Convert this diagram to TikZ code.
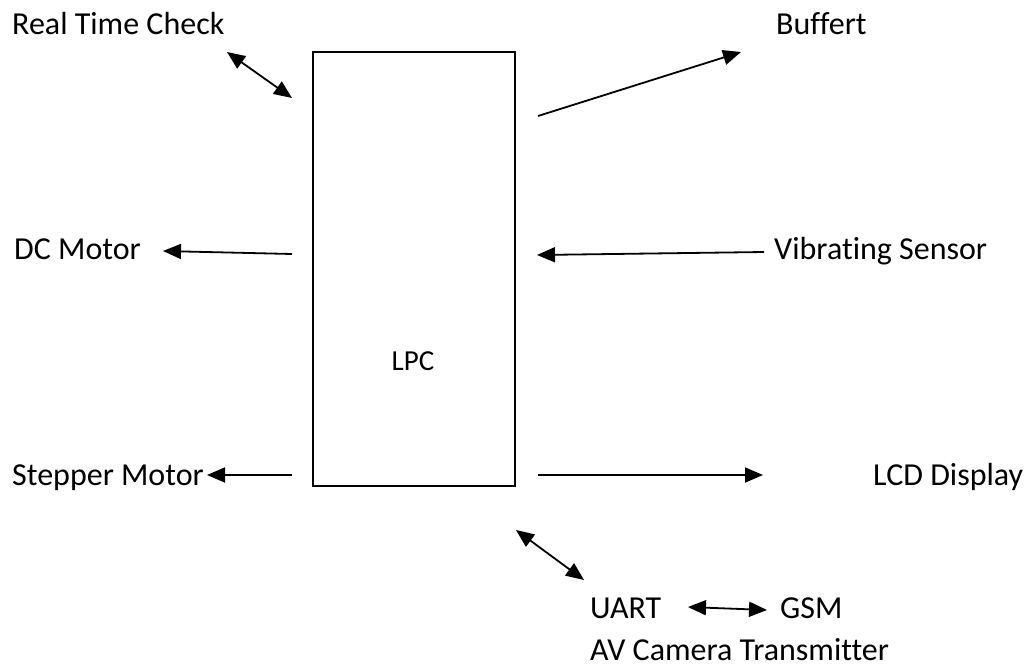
\documentclass[tikz,border=0pt]{standalone}
\usepackage{fontspec}
\setmainfont{Carlito}[Ligatures=NoCommon]
\usetikzlibrary{arrows.meta}
\tikzset{
  lbl/.style={anchor=base west, inner sep=0pt, font=\fontsize{32}{36}\selectfont},
  conn/.style={line width=1.8pt, -{Triangle[length=18pt,width=15pt]}},
  bconn/.style={line width=1.8pt, {Triangle[length=18pt,width=15pt]}-{Triangle[length=18pt,width=15pt]}},
  lpcbox/.style={draw, line width=1.4pt}
}
\begin{document}
\begin{tikzpicture}[x=1pt,y=-1pt]
\useasboundingbox (0,0) rectangle (1029,667);
% box
\draw[lpcbox] (313,52) rectangle (515,486);
\node[inner sep=0pt, font=\fontsize{29}{32}\selectfont] (lpc) at (413,361) {LPC};
% labels
\node[lbl] (rtc) at (12,34) {Real Time Check};
\node[lbl] (buf) at (776,34) {Buffert};
\node[lbl] (dc) at (14,259) {DC Motor};
\node[lbl] (vib) at (774,259) {Vibrating Sensor};
\node[lbl] (step) at (12,485) {Stepper Motor};
\node[lbl] (lcd) at (873,485) {LCD Display};
\node[lbl] (uart) at (590,618) {UART};
\node[lbl] (gsm) at (780,618) {GSM};
\node[lbl] (av) at (590,660) {AV Camera Transmitter};
% connector endpoints
\coordinate (rtcA) at (227,52);
\coordinate (rtcB) at (292,98);
\coordinate (bufA) at (538,116);
\coordinate (bufB) at (741,52);
\coordinate (dcA) at (292,254);
\coordinate (dcB) at (163,251);
\coordinate (vibA) at (764,252);
\coordinate (vibB) at (537,255);
\coordinate (stA) at (292,475);
\coordinate (stB) at (207,475);
\coordinate (lcdA) at (538,475);
\coordinate (lcdB) at (763,475);
\coordinate (uA) at (516,530);
\coordinate (uB) at (584,580);
\coordinate (gA) at (688,607);
\coordinate (gB) at (767,610);
% connectors
\draw[bconn] (rtcA) -- (rtcB);
\draw[conn] (bufA) -- (bufB);
\draw[conn] (dcA) -- (dcB);
\draw[conn] (vibA) -- (vibB);
\draw[conn] (stA) -- (stB);
\draw[conn] (lcdA) -- (lcdB);
\draw[bconn] (uA) -- (uB);
\draw[bconn] (gA) -- (gB);
\end{tikzpicture}
\end{document}
